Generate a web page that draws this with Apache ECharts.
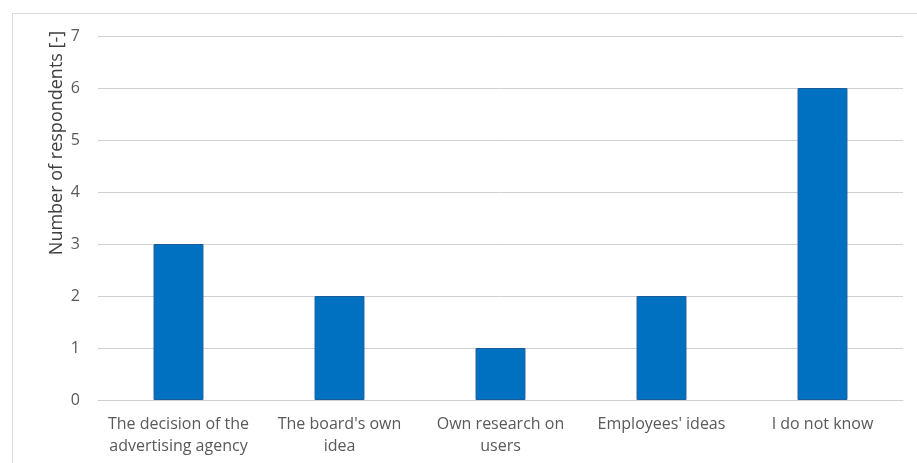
<!DOCTYPE html>
<html><head><meta charset="utf-8">
<script src="https://cdn.jsdelivr.net/npm/echarts@6/dist/echarts.min.js"></script>
<style>html,body{margin:0;padding:0;background:#fff;}#c{width:917px;height:463px;}</style>
</head><body><div id="c"></div>
<script>
var categories = ["The decision of the\nadvertising agency", "The board's own\nidea", "Own research on\nusers", "Employees' ideas", "I do not know"];
var values = [3, 2, 1, 2, 6];
var yTicks = {min: 0, max: 7, interval: 1};
var yTitle = 'Number of respondents [-]';
var chart = echarts.init(document.getElementById('c'));
chart.setOption({
  animation: false,
  graphic: [
    {type: 'rect', shape: {x: 12.5, y: 13.5, width: 1000, height: 1000}, style: {fill: 'none', stroke: '#d9d9d9', lineWidth: 1}},
    {type: 'text', x: 57, y: 143, rotation: Math.PI / 2,
     style: {text: yTitle, fill: '#404040', font: '18px "Open Sans"', textAlign: 'center', textVerticalAlign: 'middle'}}
  ],
  grid: {left: 98, right: 14, top: 36, bottom: 63},
  xAxis: {
    type: 'category', data: categories,
    axisLine: {lineStyle: {color: '#d0d0d0', width: 1}},
    axisTick: {show: false},
    axisLabel: {color: '#595959', fontFamily: 'Open Sans', fontSize: 16, lineHeight: 22, margin: 13, interval: 0}
  },
  yAxis: {
    type: 'value', min: yTicks.min, max: yTicks.max, interval: yTicks.interval,
    axisLine: {show: false}, axisTick: {show: false},
    axisLabel: {color: '#595959', fontFamily: 'Open Sans', fontSize: 16, margin: 18},
    splitLine: {lineStyle: {color: '#d0d0d0', width: 1}}
  },
  series: [{
    type: 'bar', data: values, barWidth: '31%',
    itemStyle: {color: '#0070C0', borderColor: '#1a5c9e', borderWidth: 1}
  }]
});
</script></body></html>
